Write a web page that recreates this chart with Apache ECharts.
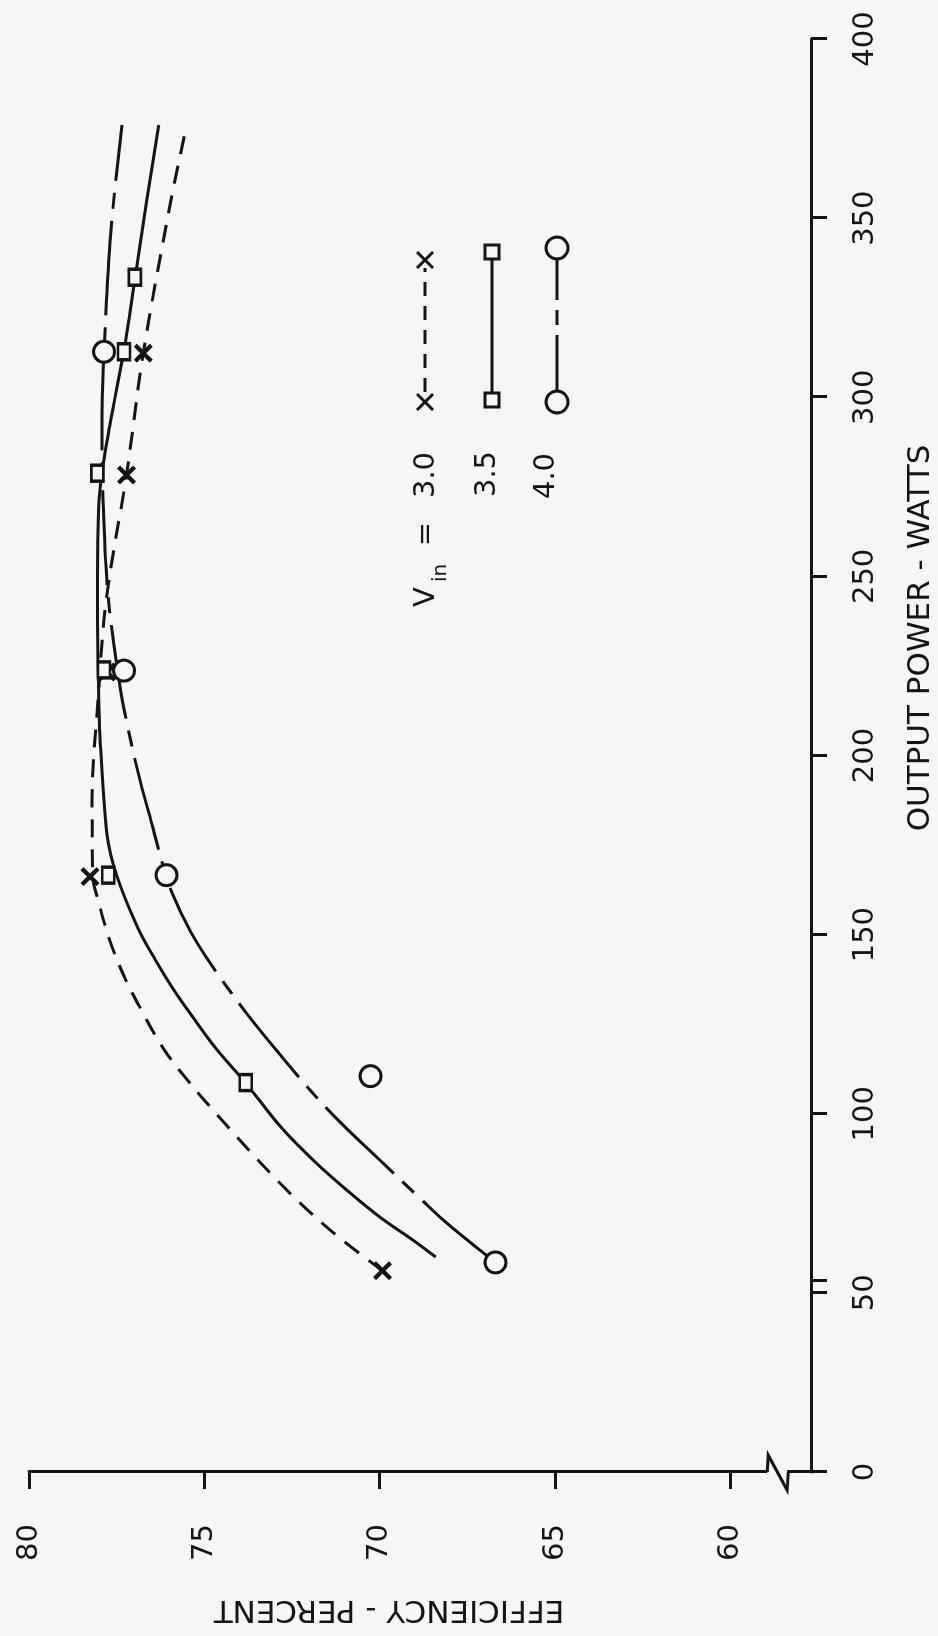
<!DOCTYPE html>
<html>
<head>
<meta charset="utf-8">
<title>Efficiency - output power</title>
<script src="https://cdn.jsdelivr.net/npm/echarts@6/dist/echarts.min.js"></script>
<style>
    html, body { margin: 0; padding: 0; width: 938px; height: 1636px; overflow: hidden; background: #f6f6f5; }
    /* the sheet is turned a quarter turn: draw the chart upright, then rotate the whole box */
    #effChart {
        position: absolute; left: 0; top: 0; width: 1636px; height: 938px;
        transform-origin: 0 0; transform: translate(0, 1636px) rotate(-90deg);
    }
</style>
</head>
<body>
<div id="effChart"></div>
<script>
    // axis ticks
    var powerTicks = [0, 50, 100, 150, 200, 250, 300, 350, 400];
    var powerTickMarks = [0, 50, 53.3, 100, 150, 200, 250, 300, 350, 400];
    var effTicks = [60, 65, 70, 75, 80];

    // legend (input voltage)
    var vinNames = ['3.0', '3.5', '4.0'];

    // measured points [watts, percent]
    var points30 = [[56.2, 69.92], [166.2, 78.26], [223.3, 77.78], [278.3, 77.22], [312.3, 76.74]];
    var points35 = [[108.7, 73.82], [166.6, 77.74], [223.9, 77.86], [278.8, 78.05], [312.7, 77.29], [333.5, 76.98]];
    var points40 = [[58.5, 66.7], [110.5, 70.26], [166.6, 76.08], [223.7, 77.29], [312.7, 77.86]];

    // faired curves [watts, percent]
    var curve30 = [[56.1, 69.91], [67.6, 71.42], [80.7, 72.85], [101.1, 74.76], [111.4, 75.65], [118.7, 76.2],
        [129.9, 76.85], [138.2, 77.28], [148.5, 77.7], [159.7, 78.03], [166.1, 78.18], [187.6, 78.2],
        [215.5, 78.03], [243.4, 77.8], [278.3, 77.22], [312.3, 76.74], [355.1, 75.95], [376, 75.5]];
    var curve35 = [[60, 68.4], [64.8, 69.06], [71.2, 70.0], [78.7, 70.94], [87.1, 71.9], [96.3, 72.82],
        [108.6, 73.82], [118, 74.65], [127, 75.33], [135, 75.9], [143, 76.4], [152, 76.9], [166.6, 77.5],
        [178.4, 77.78], [206.3, 77.98], [225, 78.03], [250, 78.05], [272, 78.0], [292, 77.7], [312.6, 77.3],
        [333.6, 76.97], [355, 76.64], [376, 76.3]];
    var curve40 = [[58.6, 66.7], [62, 67.15], [69.5, 68.09], [76.5, 68.86], [87.1, 70.0], [96.9, 71.05],
        [105.8, 71.91], [117.8, 72.95], [128.1, 73.8], [141, 74.76], [151, 75.4], [161.6, 75.92], [170, 76.2],
        [180, 76.47], [191, 76.78], [206.3, 77.15], [220.2, 77.42], [245, 77.75], [271.3, 77.89], [295, 77.92],
        [312.6, 77.86], [345.8, 77.67], [376, 77.35]];

    var ink = '#141414';
    var paper = '#f6f6f5';
    var fontName = '"DejaVu Sans"';
    var crossPath = 'path://M0,1.6L1.6,0L5,3.4L8.4,0L10,1.6L6.6,5L10,8.4L8.4,10L5,6.6L1.6,10L0,8.4L3.4,5Z';

    var chart = echarts.init(document.getElementById('effChart'));

    function curve(data, dash) {
        return {
            type: 'line',
            data: data,
            showSymbol: false,
            smooth: 0.35,
            silent: true,
            z: 2,
            lineStyle: { color: ink, width: 3, type: dash }
        };
    }

    var option = {
        backgroundColor: paper,
        animation: false,
        grid: { left: 164, right: 39, top: 29, bottom: 127, outerBoundsMode: 'none' },
        xAxis: {
            type: 'value',
            min: 0,
            max: 400,
            interval: 50,
            axisLine: { onZero: false, lineStyle: { color: ink, width: 3 } },
            axisTick: { length: 16, customValues: powerTickMarks, lineStyle: { color: ink, width: 3 } },
            axisLabel: { customValues: powerTicks, color: ink, fontFamily: fontName, fontSize: 29, margin: 40 },
            splitLine: { show: false }
        },
        yAxis: {
            type: 'value',
            min: 57.7,
            max: 80,
            axisLine: { onZero: false, lineStyle: { color: ink, width: 3 } },
            axisTick: { length: 17, customValues: effTicks, lineStyle: { color: ink, width: 3 } },
            axisLabel: { customValues: effTicks, color: ink, fontFamily: fontName, fontSize: 29, margin: 52 },
            splitLine: { show: false }
        },
        series: [
            curve(curve30, [18, 12]),
            curve(curve35, 'solid'),
            curve(curve40, [95, 12, 16, 12]),
            {
                type: 'scatter', name: vinNames[0], data: points30, symbol: crossPath, symbolSize: 19, z: 5,
                itemStyle: { color: ink, opacity: 1 }
            },
            {
                type: 'scatter', name: vinNames[1], data: points35, symbol: 'rect', symbolSize: [16, 12], z: 5,
                itemStyle: { color: paper, borderColor: ink, borderWidth: 3, opacity: 1 }
            },
            {
                type: 'scatter', name: vinNames[2], data: points40, symbol: 'circle', symbolSize: 21, z: 5,
                itemStyle: { color: paper, borderColor: ink, borderWidth: 3, opacity: 1 }
            }
        ]
    };

    chart.setOption(option);

    function txt(x, y, text, size, rot) {
        return {
            type: 'text', x: x, y: y, rotation: rot || 0, z: 10,
            style: { text: text, fill: ink, font: size + 'px ' + fontName, align: 'center', verticalAlign: 'middle' }
        };
    }
    function seg(x1, y1, x2, y2, dash) {
        return {
            type: 'line', z: 10,
            shape: { x1: x1, y1: y1, x2: x2, y2: y2 },
            style: { stroke: ink, lineWidth: 3, lineDash: dash || null }
        };
    }
    function cross(cx, cy) {
        return [seg(cx - 8, cy - 8, cx + 8, cy + 8), seg(cx - 8, cy + 8, cx + 8, cy - 8)];
    }

    var graphic = [];

    // axis titles
    graphic.push(txt(998, 921, 'OUTPUT POWER - WATTS', 31));
    graphic.push(txt(27, 389, 'EFFICIENCY - PERCENT', 31, Math.PI / 2));

    // legend
    graphic.push(txt(1039, 426, 'V', 29));
    graphic.push(txt(1063, 441, 'in', 20));
    graphic.push(txt(1102, 426, '=', 29));
    graphic.push(txt(1161, 426, vinNames[0], 29));
    graphic.push(txt(1162, 487, vinNames[1], 29));
    graphic.push(txt(1160, 546, vinNames[2], 29));

    graphic.push(seg(1244, 425, 1368, 425, [14, 10]));
    graphic = graphic.concat(cross(1234, 425), cross(1376, 425));

    graphic.push(seg(1236, 492, 1384, 492));
    graphic.push({ type: 'rect', z: 11, shape: { x: 1229, y: 485, width: 14, height: 14 },
        style: { fill: paper, stroke: ink, lineWidth: 3 } });
    graphic.push({ type: 'rect', z: 11, shape: { x: 1377, y: 485, width: 14, height: 14 },
        style: { fill: paper, stroke: ink, lineWidth: 3 } });

    graphic.push(seg(1246, 557, 1376, 557, [55, 10, 15, 10]));
    graphic.push({ type: 'circle', z: 11, shape: { cx: 1234, cy: 557, r: 11 },
        style: { fill: paper, stroke: ink, lineWidth: 3 } });
    graphic.push({ type: 'circle', z: 11, shape: { cx: 1388, cy: 557, r: 11 },
        style: { fill: paper, stroke: ink, lineWidth: 3 } });

    // broken efficiency axis below 60
    var b1 = chart.convertToPixel({ gridIndex: 0 }, [0, 58.95]);
    var b2 = chart.convertToPixel({ gridIndex: 0 }, [0, 58.38]);
    graphic.push({ type: 'rect', z: 10, shape: { x: b1[0] - 6, y: b1[1], width: 12, height: b2[1] - b1[1] },
        style: { fill: paper } });
    graphic.push({ type: 'polyline', z: 11,
        shape: { points: [[b1[0], b1[1]], [b1[0] + 17, b1[1] + 1], [b1[0] - 18, b2[1]], [b2[0], b2[1] + 1]] },
        style: { stroke: ink, lineWidth: 3, fill: null } });

    chart.setOption({ graphic: graphic });
</script>
</body>
</html>
